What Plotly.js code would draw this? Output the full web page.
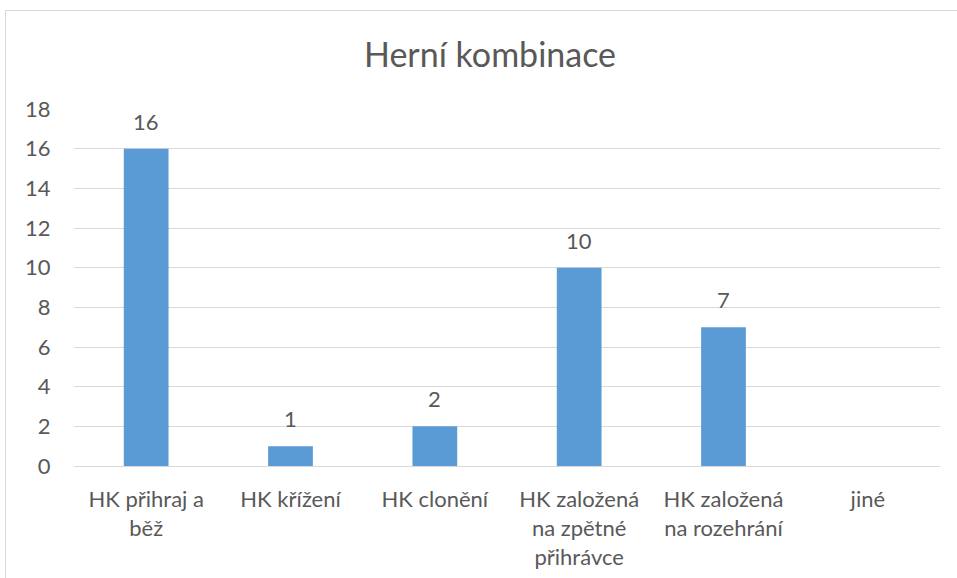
<!DOCTYPE html>
<html>
<head>
<meta charset="utf-8">
<script src="https://cdn.plot.ly/plotly-3.0.1.min.js"></script>
<style>
  html, body { margin: 0; padding: 0; background: #fff; }
  #wrap { position: relative; width: 957px; height: 578px; overflow: hidden; }
  #chart { position: absolute; left: 0; top: 0; width: 957px; height: 578px; }
  #frame { position: absolute; left: 5px; top: 10px; width: 1200px; height: 1200px;
           border-left: 1.5px solid #d9d9d9; border-top: 1.5px solid #d9d9d9; pointer-events: none; }
</style>
</head>
<body>
<div id="wrap">
  <div id="chart"></div>
  <div id="frame"></div>
</div>
<script>
const categories = [
  "HK přihraj a<br>běž",
  "HK křížení",
  "HK clonění",
  "HK založená<br>na zpětné<br>přihrávce",
  "HK založená<br>na rozehrání",
  "jiné"
];
const values = [16, 1, 2, 10, 7, null];
const yTicks = [0, 2, 4, 6, 8, 10, 12, 14, 16, 18];

const fontFam = "Lato, 'Open Sans', sans-serif";
const textColor = "#595959";

const trace = {
  type: "bar",
  x: categories,
  y: values,
  marker: { color: "#5b9bd5" },
  hoverinfo: "x+y"
};

const annotations = categories.map((c, i) => values[i] == null ? null : ({
  x: c, y: values[i], xref: "x", yref: "y",
  text: String(values[i]), showarrow: false,
  yanchor: "bottom", yshift: 12,
  font: { family: fontFam, size: 22, color: textColor }
})).filter(a => a);

const layout = {
  width: 957, height: 578,
  margin: { l: 74, r: 17, t: 109, b: 112 },
  paper_bgcolor: "#fff", plot_bgcolor: "#fff",
  bargap: 0.69,
  showlegend: false,
  title: {
    text: "Herní kombinace",
    x: 490 / 957, xref: "container", xanchor: "center",
    y: 1 - 55 / 578, yref: "container", yanchor: "middle",
    font: { family: fontFam, size: 34, color: textColor }
  },
  xaxis: {
    type: "category",
    showgrid: false,
    showline: true, linecolor: "#d9d9d9", linewidth: 1,
    ticks: "outside", ticklen: 14, tickcolor: "rgba(0,0,0,0)",
    tickfont: { family: fontFam, size: 22, color: textColor },
    zeroline: false
  },
  yaxis: {
    range: [0, 18],
    tickvals: yTicks,
    ticktext: yTicks.map(String),
    showgrid: true, gridcolor: "#d9d9d9", gridwidth: 1,
    zeroline: false, showline: false,
    ticks: "outside", ticklen: 18, tickcolor: "rgba(0,0,0,0)",
    tickfont: { family: fontFam, size: 22, color: textColor }
  },
  annotations: annotations
};

Plotly.newPlot("chart", [trace], layout, { displayModeBar: false, staticPlot: true });
</script>
</body>
</html>
